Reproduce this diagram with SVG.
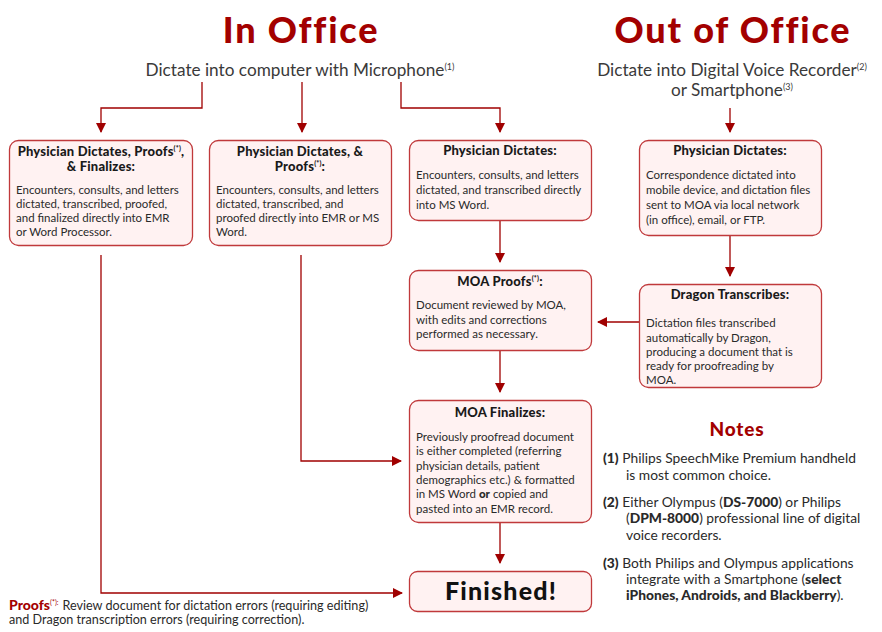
<svg xmlns="http://www.w3.org/2000/svg" width="882" height="632" viewBox="0 0 882 632">
<style>
text{font-family:Lato,"Liberation Sans",sans-serif;fill:#2a2a2a}
.h1{font-size:36px;font-weight:900;fill:#a30000;text-anchor:middle;letter-spacing:1.8px}
.sub{font-size:17.2px;fill:#3a3a3a;text-anchor:middle}
.box{fill:#fff2f2;stroke:#c0393b;stroke-width:1.3}
.t{font-size:13px;font-weight:900;fill:#1a1a1a;text-anchor:middle;letter-spacing:0.2px}
.b{font-size:11.5px;fill:#2a2a2a}
.sup{font-size:7px}
.fin{font-size:25px;font-weight:900;fill:#111;text-anchor:middle;letter-spacing:1.2px}
.n{font-size:13.8px;fill:#2a2a2a}
.nb{font-weight:900}
.red{fill:#a30000}
.cn{fill:none;stroke:#a00000;stroke-width:1.3}
</style>
<defs>
<marker id="ah" viewBox="0 0 10 10" refX="9" refY="5" markerWidth="10" markerHeight="10" markerUnits="userSpaceOnUse" orient="auto">
<path d="M0,0 L10,5 L0,10 Z" fill="#a00000"/>
</marker>
</defs>
<rect width="882" height="632" fill="#fff"/>

<text class="h1" x="301" y="43">In Office</text>
<text class="h1" x="733" y="43">Out of Office</text>
<text class="sub" x="300" y="76">Dictate into computer with Microphone<tspan font-size="9" dy="-6">(1)</tspan></text>
<text class="sub" x="732" y="76">Dictate into Digital Voice Recorder<tspan font-size="9" dy="-6">(2)</tspan></text>
<text class="sub" x="732" y="96">or Smartphone<tspan font-size="9" dy="-6">(3)</tspan></text>

<g id="connectors">
<path class="cn" d="M202,82 V108 H101 V132" marker-end="url(#ah)"/>
<path class="cn" d="M302,82 V132" marker-end="url(#ah)"/>
<path class="cn" d="M401,82 V108 H500 V132" marker-end="url(#ah)"/>
<path class="cn" d="M730,108 V132" marker-end="url(#ah)"/>
<path class="cn" d="M500,221 V262" marker-end="url(#ah)"/>
<path class="cn" d="M730,235 V276" marker-end="url(#ah)"/>
<path class="cn" d="M639,322 H598" marker-end="url(#ah)"/>
<path class="cn" d="M500,351 V392" marker-end="url(#ah)"/>
<path class="cn" d="M500,523 V563" marker-end="url(#ah)"/>
<path class="cn" d="M101,255 V593 H402" marker-end="url(#ah)"/>
<path class="cn" d="M301,255 V461 H401" marker-end="url(#ah)"/>
</g>

<g id="box1">
<rect class="box" x="9.5" y="140.5" width="183" height="105" rx="9"/>
<text class="t" x="101" y="156">Physician Dictates, Proofs<tspan class="sup" dy="-5">(*)</tspan><tspan dy="5">,</tspan></text>
<text class="t" x="101" y="171">&amp; Finalizes:</text>
<text class="b" x="16" y="194">Encounters, consults, and letters</text>
<text class="b" x="16" y="208">dictated, transcribed, proofed,</text>
<text class="b" x="16" y="222">and finalized directly into EMR</text>
<text class="b" x="16" y="236">or Word Processor.</text>
</g>

<g id="box2">
<rect class="box" x="209.5" y="140.5" width="182" height="105" rx="9"/>
<text class="t" x="300" y="156">Physician Dictates, &amp;</text>
<text class="t" x="300" y="171">Proofs<tspan class="sup" dy="-5">(*)</tspan><tspan dy="5">:</tspan></text>
<text class="b" x="216" y="194">Encounters, consults, and letters</text>
<text class="b" x="216" y="208">dictated, transcribed, and</text>
<text class="b" x="216" y="222">proofed directly into EMR or MS</text>
<text class="b" x="216" y="236">Word.</text>
</g>

<g id="box3">
<rect class="box" x="409.5" y="140.5" width="182" height="80" rx="9"/>
<text class="t" x="500" y="155">Physician Dictates:</text>
<text class="b" x="416" y="179">Encounters, consults, and letters</text>
<text class="b" x="416" y="194">dictated, and transcribed directly</text>
<text class="b" x="416" y="209">into MS Word.</text>
</g>

<g id="box4">
<rect class="box" x="639.5" y="140.5" width="182" height="95" rx="9"/>
<text class="t" x="730" y="155">Physician Dictates:</text>
<text class="b" x="646" y="179">Correspondence dictated into</text>
<text class="b" x="646" y="194">mobile device, and dictation files</text>
<text class="b" x="646" y="209">sent to MOA via local network</text>
<text class="b" x="646" y="224">(in office), email, or FTP.</text>
</g>

<g id="moaProofs">
<rect class="box" x="409.5" y="270.5" width="182" height="80" rx="9"/>
<text class="t" x="500" y="286">MOA Proofs<tspan class="sup" dy="-5">(*)</tspan><tspan dy="5">:</tspan></text>
<text class="b" x="416" y="309">Document reviewed by MOA,</text>
<text class="b" x="416" y="324">with edits and corrections</text>
<text class="b" x="416" y="338">performed as necessary.</text>
</g>

<g id="dragon">
<rect class="box" x="639.5" y="284.5" width="182" height="103" rx="9"/>
<text class="t" x="730" y="299">Dragon Transcribes:</text>
<text class="b" x="646" y="327">Dictation files transcribed</text>
<text class="b" x="646" y="342">automatically by Dragon,</text>
<text class="b" x="646" y="356">producing a document that is</text>
<text class="b" x="646" y="370">ready for proofreading by</text>
<text class="b" x="646" y="384">MOA.</text>
</g>

<g id="moaFinalizes">
<rect class="box" x="409.5" y="400.5" width="182" height="122" rx="9"/>
<text class="t" x="500" y="417">MOA Finalizes:</text>
<text class="b" x="416" y="441">Previously proofread document</text>
<text class="b" x="416" y="455">is either completed (referring</text>
<text class="b" x="416" y="470">physician details, patient</text>
<text class="b" x="416" y="484">demographics etc.) &amp; formatted</text>
<text class="b" x="416" y="498">in MS Word <tspan font-weight="900">or</tspan> copied and</text>
<text class="b" x="416" y="513">pasted into an EMR record.</text>
</g>

<g id="finished">
<rect class="box" x="409.5" y="571.5" width="182" height="40" rx="8"/>
<text class="fin" x="501" y="600">Finished!</text>
</g>

<g id="notes">
<text class="red" x="737" y="436" font-size="19" font-weight="900" text-anchor="middle" letter-spacing="0.8">Notes</text>
<text class="n" x="603" y="463"><tspan class="nb">(1)</tspan> Philips SpeechMike Premium handheld</text>
<text class="n" x="626" y="480">is most common choice.</text>
<text class="n" x="603" y="507"><tspan class="nb">(2)</tspan> Either Olympus (<tspan class="nb">DS-7000</tspan>) or Philips</text>
<text class="n" x="626" y="523">(<tspan class="nb">DPM-8000</tspan>) professional line of digital</text>
<text class="n" x="626" y="540">voice recorders.</text>
<text class="n" x="603" y="568"><tspan class="nb">(3)</tspan> Both Philips and Olympus applications</text>
<text class="n" x="626" y="584">integrate with a Smartphone (<tspan class="nb">select</tspan></text>
<text class="n" x="626" y="600"><tspan class="nb">iPhones, Androids, and Blackberry</tspan>).</text>
</g>

<g id="footnote">
<text x="9" y="610" font-size="12.6"><tspan font-size="14" font-weight="900" class="red">Proofs</tspan><tspan font-size="7" dy="-5" class="red">(*):</tspan><tspan dy="5" dx="4">Review document for dictation errors (requiring editing)</tspan></text>
<text x="9" y="624" font-size="12.6">and Dragon transcription errors (requiring correction).</text>
</g>
</svg>
